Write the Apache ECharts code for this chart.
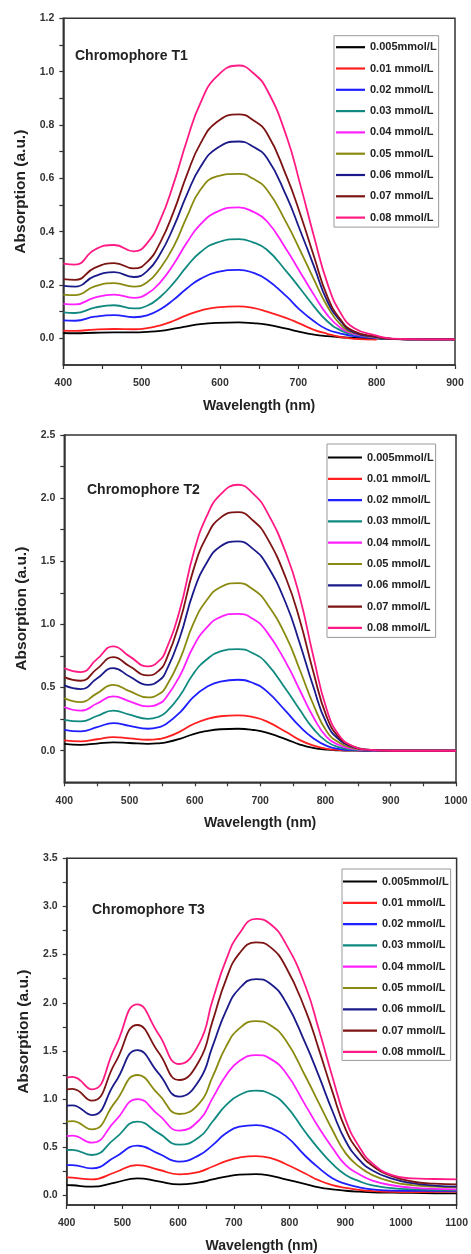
<!DOCTYPE html>
<html>
<head>
<meta charset="utf-8">
<script src="https://cdn.jsdelivr.net/npm/echarts@6/dist/echarts.min.js"></script>
<style>
html,body{margin:0;padding:0;background:#fff;}
#c{width:471px;height:1254px;}
</style>
</head>
<body>
<div id="c"></div>
<script>
// ---------- DATA ----------
const legendNames = ['0.005mmol/L','0.01 mmol/L','0.02 mmol/L','0.03 mmol/L','0.04 mmol/L','0.05 mmol/L','0.06 mmol/L','0.07 mmol/L','0.08 mmol/L'];
const panelTitles = ['Chromophore T1','Chromophore T2','Chromophore T3'];
const xAxisTitle = 'Wavelength (nm)';
const yAxisTitle = 'Absorption (a.u.)';

// Chromophore T1
const wl1 = [400,415,440,465,490,507,524,541,558,575,596,624,642,660,685,702,720,737,754,771,800,820,860,900];
const t1_005 = [.020,.019,.021,.022,.022,.024,.028,.036,.045,.053,.058,.060,.057,.051,.036,.024,.014,.008,.004,.002,-.001,-.003,-.004,-.004];
const t1_01  = [.029,.028,.033,.035,.034,.038,.049,.066,.087,.104,.116,.120,.114,.100,.076,.055,.032,.017,.005,-.002,-.005,null,null,null];
const t1_02  = [.067,.066,.081,.087,.079,.086,.109,.145,.188,.223,.248,.257,.246,.220,.157,.107,.064,.033,.018,.008,.001,-.002,-.004,-.004];
const t1_03  = [.097,.095,.115,.124,.112,.122,.156,.208,.271,.323,.359,.372,.360,.332,.250,.188,.120,.064,.030,.014,.002,-.002,-.004,-.004];
const t1_04  = [.129,.127,.153,.164,.152,.167,.211,.279,.360,.427,.474,.491,.475,.439,.332,.250,.163,.088,.039,.017,.003,-.002,-.004,-.004];
const t1_05  = [.164,.162,.195,.207,.194,.210,.264,.345,.457,.557,.607,.617,.599,.557,.432,.332,.220,.120,.051,.020,.004,-.002,-.004,-.004];
const t1_06  = [.197,.194,.233,.248,.230,.252,.318,.419,.541,.642,.713,.738,.719,.676,.532,.407,.270,.139,.064,.022,.005,-.002,-.004,-.004];
const t1_07  = [.222,.219,.264,.282,.262,.286,.361,.476,.615,.730,.811,.840,.819,.769,.607,.470,.307,.157,.070,.026,.006,-.002,-.004,-.004];
const t1_08  = [.280,.276,.332,.350,.326,.357,.445,.582,.744,.882,.982,1.023,.996,.932,.757,.582,.382,.207,.095,.039,.010,-.001,-.004,-.004];

// Chromophore T2
const wl2 = [400,425,450,475,500,528,545,556,577,598,618,639,666,690,710,740,761,781,802,822,843,863,900,950,1000];
const t2_005 = [.055,.047,.057,.066,.061,.055,.059,.066,.094,.132,.156,.170,.174,.164,.143,.090,.049,.022,.008,.003,.001,0,0,0,0];
const t2_01  = [.082,.074,.091,.108,.098,.087,.093,.105,.151,.212,.251,.273,.280,.265,.232,.148,.084,.042,.015,.005,.002,.001,0,0,0];
const t2_02  = [.166,.153,.186,.219,.197,.174,.186,.211,.302,.426,.504,.548,.562,.534,.472,.309,.191,.101,.039,.013,.004,.001,0,0,0];
const t2_03  = [.245,.232,.275,.317,.285,.253,.270,.305,.435,.612,.722,.786,.805,.769,.692,.483,.322,.177,.072,.026,.008,.002,0,0,0];
const t2_04  = [.346,.317,.374,.430,.391,.351,.373,.421,.593,.827,.974,1.058,1.084,1.041,.943,.694,.477,.271,.108,.043,.014,.004,0,0,0];
const t2_05  = [.417,.385,.454,.522,.472,.422,.449,.508,.721,1.010,1.191,1.295,1.327,1.274,1.168,.902,.637,.372,.153,.061,.021,.007,0,0,0];
const t2_06  = [.517,.488,.571,.654,.588,.522,.556,.630,.897,1.260,1.487,1.617,1.657,1.594,1.475,1.160,.845,.514,.215,.083,.028,.008,0,0,0];
const t2_07  = [.583,.554,.648,.741,.669,.596,.635,.719,1.023,1.436,1.695,1.844,1.889,1.819,1.691,1.360,1.029,.633,.268,.098,.032,.009,0,0,0];
const t2_08  = [.654,.623,.725,.826,.747,.668,.711,.800,1.116,1.565,1.855,2.027,2.106,2.032,1.895,1.558,1.211,.758,.326,.114,.034,.008,0,0,0];

// Chromophore T3
const wl3 = [400,410,445,487,527,565,602,638,662,686,710,740,765,793,829,853,877,901,925,949,984,1020,1060,1100];
const t3_005 = [.107,.105,.090,.133,.177,.145,.114,.135,.165,.195,.215,.220,.205,.166,.117,.083,.062,.048,.038,.031,.028,.025,.022,.020];
const t3_01  = [.187,.185,.166,.240,.315,.266,.218,.245,.300,.355,.393,.408,.390,.326,.224,.155,.106,.078,.057,.045,.037,.035,.036,.038];
const t3_02  = [.315,.315,.280,.398,.516,.433,.350,.418,.522,.644,.713,.730,.700,.618,.406,.283,.178,.119,.084,.063,.049,.048,.048,.048];
const t3_03  = [.471,.472,.419,.592,.765,.646,.526,.605,.767,.936,1.042,1.087,1.055,.935,.652,.478,.326,.212,.147,.103,.076,.063,.057,.055];
const t3_04  = [.616,.620,.547,.774,1.000,.836,.672,.782,1.010,1.245,1.394,1.457,1.420,1.275,.932,.699,.495,.313,.219,.153,.105,.080,.067,.062];
const t3_05  = [.765,.770,.685,.968,1.250,1.048,.845,.955,1.232,1.544,1.734,1.810,1.770,1.613,1.232,.955,.679,.436,.298,.210,.141,.107,.090,.083];
const t3_06  = [.931,.935,.834,1.172,1.509,1.267,1.025,1.196,1.550,1.916,2.148,2.246,2.200,2.010,1.572,1.235,.876,.562,.371,.258,.173,.126,.101,.090];
const t3_07  = [1.100,1.105,.983,1.376,1.769,1.484,1.198,1.398,1.812,2.241,2.513,2.627,2.580,2.377,1.918,1.511,1.077,.683,.452,.307,.200,.144,.121,.114];
const t3_08  = [1.222,1.230,1.100,1.540,1.983,1.674,1.364,1.578,2.028,2.443,2.720,2.870,2.820,2.617,2.166,1.716,1.232,.782,.505,.332,.210,.176,.170,.166];

// axis ranges & ticks
const xRanges = [[400,900],[400,1000],[400,1100]];
const yRanges = [[-0.1,1.2],[-0.25,2.5],[-0.1,3.5]];
const yLabels1 = [0,0.2,0.4,0.6,0.8,1.0,1.2];
const yTicks1  = [0,0.1,0.2,0.3,0.4,0.5,0.6,0.7,0.8,0.9,1.0,1.1,1.2];
const yLabels2 = [0,0.5,1.0,1.5,2.0,2.5];
const yTicks2  = [0,0.25,0.5,0.75,1.0,1.25,1.5,1.75,2.0,2.25,2.5];
const yLabels3 = [0,0.5,1.0,1.5,2.0,2.5,3.0,3.5];
const yTicks3  = [0,0.25,0.5,0.75,1.0,1.25,1.5,1.75,2.0,2.25,2.5,2.75,3.0,3.25,3.5];

// ---------- CHART ----------
const colors = ['#000000','#ff1f1f','#1f1fff','#108a80','#ff1fff','#8a8a10','#1a1a8a','#7d1414','#ff1a84'];
const font = "'Liberation Sans', Arial, sans-serif";
const panelData = [
  {wl: wl1, s: [t1_005,t1_01,t1_02,t1_03,t1_04,t1_05,t1_06,t1_07,t1_08], yl: yLabels1, yt: yTicks1},
  {wl: wl2, s: [t2_005,t2_01,t2_02,t2_03,t2_04,t2_05,t2_06,t2_07,t2_08], yl: yLabels2, yt: yTicks2},
  {wl: wl3, s: [t3_005,t3_01,t3_02,t3_03,t3_04,t3_05,t3_06,t3_07,t3_08], yl: yLabels3, yt: yTicks3}
];
const grids = [
  {left: 63.3, top: 18.3, width: 391.7, height: 346.7},
  {left: 64.3, top: 435, width: 391.7, height: 347.3},
  {left: 66.7, top: 858.3, width: 391.6, height: 346.7}
];
const legends = [
  {left: 334, top: 35.7, itemWidth: 29, padding: [5, 2, 3, 2]},
  {left: 327, top: 444, itemWidth: 34, padding: [7, 2, 3, 1]},
  {left: 342, top: 869, itemWidth: 34, padding: [6, 2, 2, 1]}
];
const titlePos = [[75, 49], [87, 483], [92, 903]];

const option = {
  animation: false,
  backgroundColor: '#ffffff',
  grid: grids.map(g => Object.assign({show: true, borderColor: '#333', borderWidth: 1.5, backgroundColor: 'transparent'}, g)),
  xAxis: panelData.map((p, i) => ({
    gridIndex: i, type: 'value', min: xRanges[i][0], max: xRanges[i][1], interval: 50,
    name: xAxisTitle, nameLocation: 'middle', nameGap: 34,
    nameTextStyle: {fontFamily: font, fontWeight: 'bold', fontSize: 14, color: '#222'},
    axisLine: {show: true, onZero: false, lineStyle: {color: '#333', width: 1.5}},
    axisTick: {show: true, inside: false, length: 4, lineStyle: {color: '#333', width: 1.2}},
    axisLabel: {margin: 13, fontFamily: font, fontWeight: 'bold', fontSize: 10.5, color: '#333',
      formatter: v => (v % 100 === 0 ? String(v) : '')},
    splitLine: {show: false}
  })),
  yAxis: panelData.map((p, i) => ({
    gridIndex: i, type: 'value', min: yRanges[i][0], max: yRanges[i][1],
    name: yAxisTitle, nameLocation: 'middle', nameGap: 32, nameRotate: 90,
    nameTextStyle: {fontFamily: font, fontWeight: 'bold', fontSize: 15.5, color: '#222'},
    axisLine: {show: true, onZero: false, lineStyle: {color: '#333', width: 1.5}},
    axisTick: {show: true, inside: false, length: 4, customValues: p.yt, lineStyle: {color: '#333', width: 1.2}},
    axisLabel: {margin: 9, fontFamily: font, fontWeight: 'bold', fontSize: 10.5, color: '#333',
      customValues: p.yl, formatter: v => Number(v).toFixed(1)},
    splitLine: {show: false}
  })),
  legend: legends.map(l => ({
    orient: 'vertical', left: l.left, top: l.top, padding: l.padding,
    itemWidth: l.itemWidth, itemHeight: 2.2, itemGap: 8.3, icon: 'rect',
    borderColor: '#999', borderWidth: 1, selectedMode: false,
    data: legendNames,
    textStyle: {fontFamily: font, fontWeight: 'bold', fontSize: 11, color: '#222', lineHeight: 13}
  })),
  graphic: titlePos.map((pos, i) => ({
    type: 'text', left: pos[0], top: pos[1],
    style: {text: panelTitles[i], font: "bold 14px 'Liberation Sans', Arial, sans-serif", fill: '#222'}
  })),
  series: []
};

panelData.forEach((p, i) => {
  p.s.forEach((vals, k) => {
    option.series.push({
      type: 'line', name: legendNames[k], xAxisIndex: i, yAxisIndex: i,
      data: p.wl.map((x, j) => [x, vals[j]]),
      showSymbol: false, symbol: 'none', smooth: 0.5, connectNulls: false,
      color: colors[k],
      lineStyle: {color: colors[k], width: 1.8},
      z: 2 + k
    });
  });
});

const chart = echarts.init(document.getElementById('c'), null, {renderer: 'canvas'});
chart.setOption(option);
</script>
</body>
</html>
